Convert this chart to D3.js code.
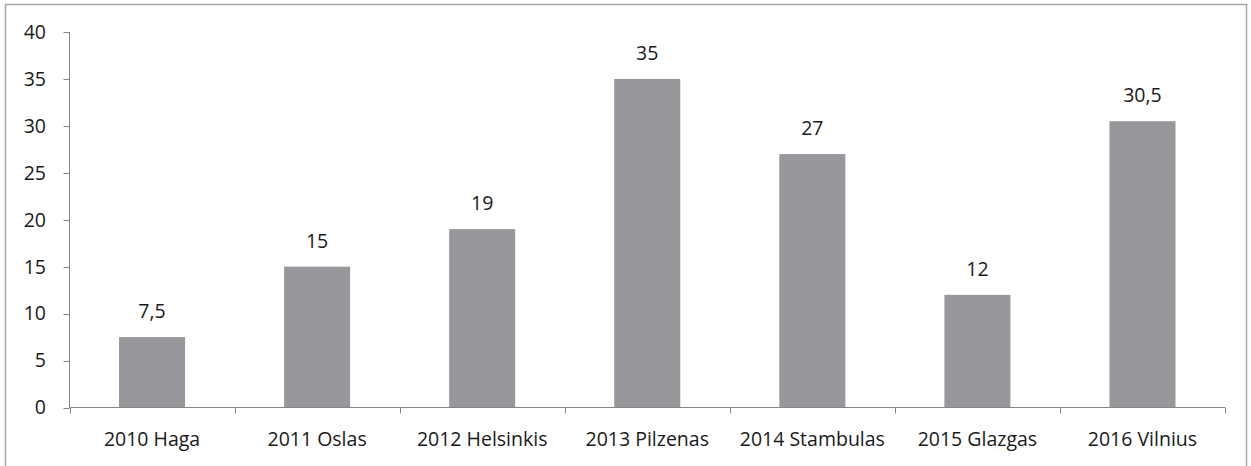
<!DOCTYPE html>
<html>
<head>
<meta charset="utf-8">
<script src="https://cdn.jsdelivr.net/npm/d3@7"></script>
<style>
  body { margin: 0; background: #fff; }
  text { font-family: "Open Sans", "Noto Sans", sans-serif; fill: #1a1a1a; }
</style>
</head>
<body>
<div class="chart"></div>
<script>
var categories = ["2010 Haga", "2011 Oslas", "2012 Helsinkis", "2013 Pilzenas", "2014 Stambulas", "2015 Glazgas", "2016 Vilnius"];
var values = [7.5, 15, 19, 35, 27, 12, 30.5];
var valueLabels = ["7,5", "15", "19", "35", "27", "12", "30,5"];
var yTicks = [0, 5, 10, 15, 20, 25, 30, 35, 40];

var W = 1251, H = 466;
var padLeft = 69.5, padRight = 1225, padTop = 32, padBottom = 407.5;
var fontSize = 19.5;

var svg = d3.select(".chart").append("svg")
    .attr("width", W)
    .attr("height", H);

// outer frame
svg.append("path")
    .attr("d", "M5.5," + H + "V4.5H1246.5V" + H)
    .attr("fill", "none")
    .attr("stroke", "#a6a6a6")
    .attr("stroke-width", 1.5);

var x = d3.scaleBand().domain(categories).range([padLeft, padRight]).paddingInner(0.6).paddingOuter(0.3);
var y = d3.scaleLinear().domain([0, 40]).range([padBottom, padTop]);

// bars
svg.append("g").selectAll("rect")
    .data(values)
    .enter().append("rect")
    .attr("x", function(d, i) { return x(categories[i]); })
    .attr("y", function(d) { return y(d); })
    .attr("width", x.bandwidth())
    .attr("height", function(d) { return padBottom - y(d); })
    .attr("fill", "#98989c");

// value labels
svg.append("g").selectAll("text")
    .data(values)
    .enter().append("text")
    .attr("x", function(d, i) { return x(categories[i]) + x.bandwidth() / 2; })
    .attr("y", function(d) { return y(d) - 19; })
    .attr("text-anchor", "middle")
    .attr("font-size", fontSize)
    .text(function(d, i) { return valueLabels[i]; });

// y axis
var yAxis = svg.append("g");
yAxis.append("line")
    .attr("x1", padLeft).attr("x2", padLeft)
    .attr("y1", y(40)).attr("y2", padBottom)
    .attr("stroke", "#868686");
yAxis.selectAll(".tick")
    .data(yTicks)
    .enter().append("line")
    .attr("x1", padLeft - 6).attr("x2", padLeft)
    .attr("y1", function(d) { return Math.round(y(d)) + 0.5; })
    .attr("y2", function(d) { return Math.round(y(d)) + 0.5; })
    .attr("stroke", "#868686");
yAxis.selectAll("text")
    .data(yTicks)
    .enter().append("text")
    .attr("x", 46)
    .attr("y", function(d) { return y(d); })
    .attr("dy", "0.35em")
    .attr("text-anchor", "end")
    .attr("font-size", fontSize)
    .text(function(d) { return d; });

// x axis
var xAxis = svg.append("g");
xAxis.append("line")
    .attr("x1", padLeft).attr("x2", padRight)
    .attr("y1", padBottom).attr("y2", padBottom)
    .attr("stroke", "#868686");
var step = (padRight - padLeft) / categories.length;
xAxis.selectAll(".tick")
    .data(d3.range(categories.length + 1))
    .enter().append("line")
    .attr("x1", function(d) { return Math.round(padLeft + d * step) + 0.5; })
    .attr("x2", function(d) { return Math.round(padLeft + d * step) + 0.5; })
    .attr("y1", padBottom).attr("y2", padBottom + 6)
    .attr("stroke", "#868686");
xAxis.selectAll("text")
    .data(categories)
    .enter().append("text")
    .attr("x", function(d) { return x(d) + x.bandwidth() / 2; })
    .attr("y", 446)
    .attr("text-anchor", "middle")
    .attr("font-size", fontSize)
    .text(function(d) { return d; });
</script>
</body>
</html>
